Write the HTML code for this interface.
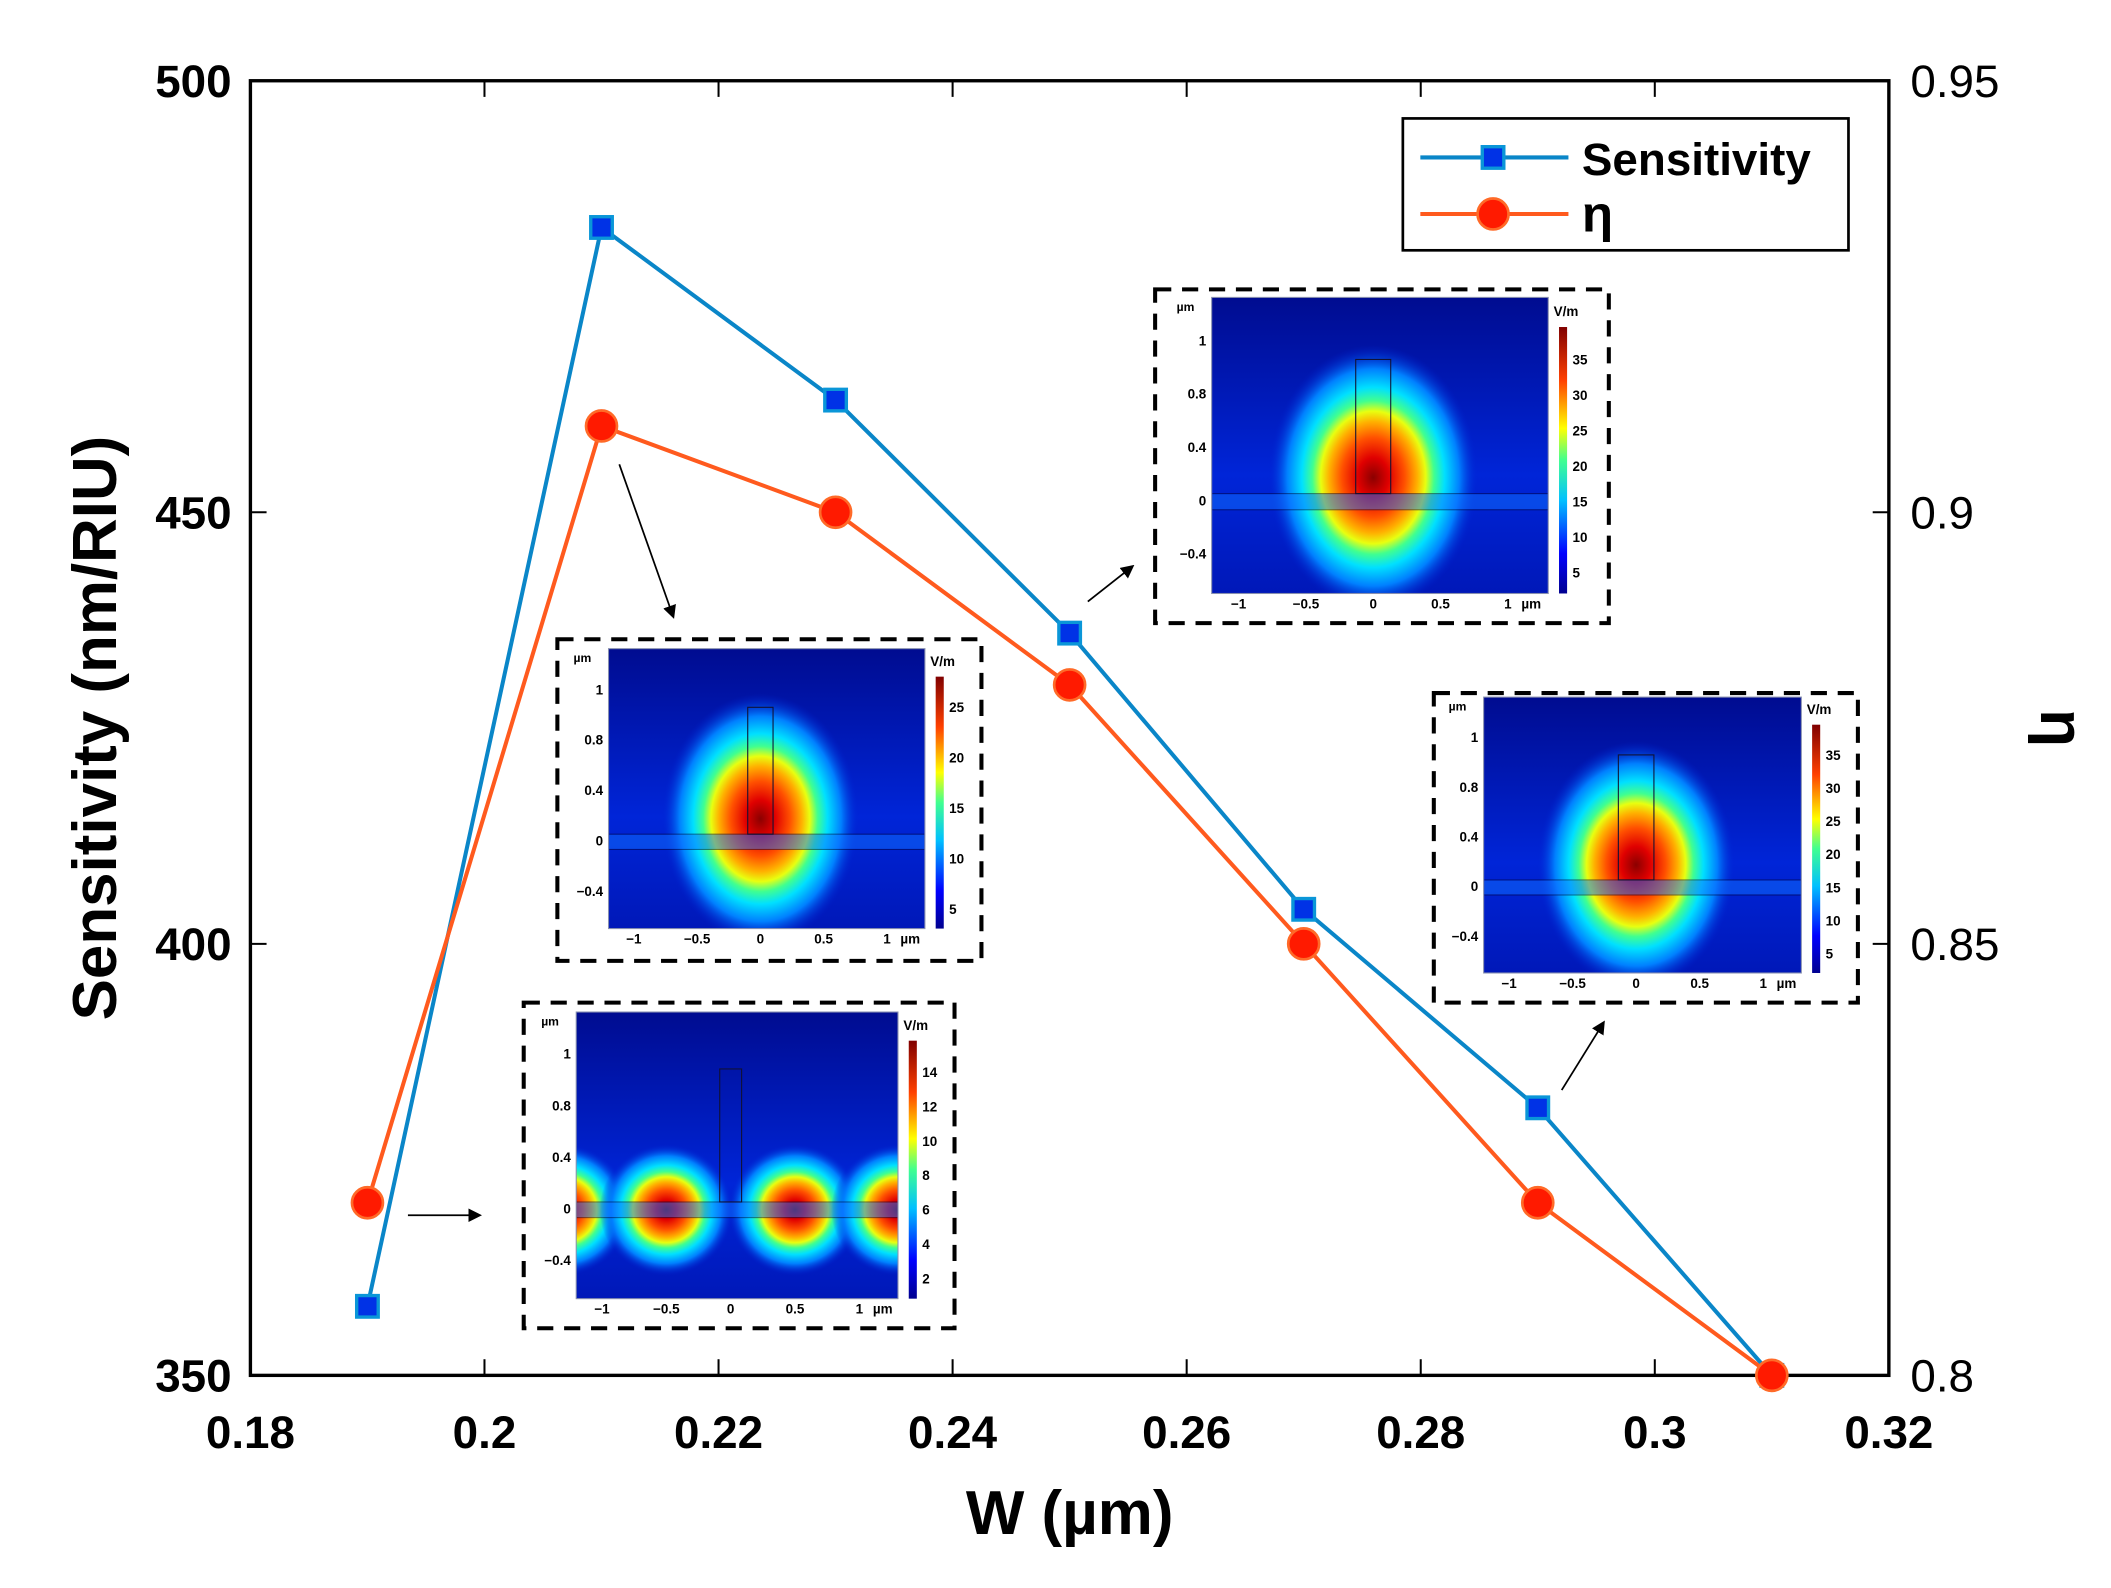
<!DOCTYPE html>
<html><head><meta charset="utf-8"><style>
html,body{margin:0;padding:0;background:#fff;}
svg{display:block;}
text{font-family:"Liberation Sans",sans-serif;}
</style></head><body>
<svg id="chart" width="2111" height="1588" viewBox="0 0 1568 1180" preserveAspectRatio="none" xmlns="http://www.w3.org/2000/svg">
<defs>
<radialGradient id="field" cx="50%" cy="50%" r="50%">
<stop offset="0" stop-color="#8b0000"/>
<stop offset="0.15" stop-color="#e00000"/>
<stop offset="0.3" stop-color="#ff5000"/>
<stop offset="0.42" stop-color="#ffb000"/>
<stop offset="0.5" stop-color="#e8ff10"/>
<stop offset="0.58" stop-color="#40ff90"/>
<stop offset="0.68" stop-color="#00e0ff"/>
<stop offset="0.82" stop-color="#0080ff"/>
<stop offset="1" stop-color="#0020d0" stop-opacity="0"/>
</radialGradient>
<linearGradient id="bg" x1="0" y1="0" x2="0" y2="1">
<stop offset="0" stop-color="#000c90"/><stop offset="0.6" stop-color="#0025d8"/><stop offset="1" stop-color="#0018b8"/>
</linearGradient>
<linearGradient id="cbar" x1="0" y1="1" x2="0" y2="0">
<stop offset="0" stop-color="#00008f"/><stop offset="0.15" stop-color="#0000ff"/><stop offset="0.35" stop-color="#00c0ff"/><stop offset="0.5" stop-color="#40ff90"/><stop offset="0.62" stop-color="#ffff00"/><stop offset="0.8" stop-color="#ff4000"/><stop offset="1" stop-color="#800000"/>
</linearGradient>
<marker id="ah" markerWidth="10" markerHeight="10" refX="8" refY="5" orient="auto" markerUnits="userSpaceOnUse"><path d="M0,0 L10,5 L0,10 z" fill="#000"/></marker>
</defs>
<g id="insets"></g>
<g id="plot"></g>
</svg>
<script>
const categories=[0.19,0.21,0.23,0.25,0.27,0.29,0.31];
const sensitivity=[358,483,463,436,404,381,350];
const eta=[0.82,0.91,0.90,0.88,0.85,0.82,0.80];
const xTicks=[0.18,0.2,0.22,0.24,0.26,0.28,0.3,0.32];
const xTickLabels=["0.18","0.2","0.22","0.24","0.26","0.28","0.3","0.32"];
const yTicks=[350,400,450,500];
const y2Ticks=[0.8,0.85,0.9,0.95];
const y2TickLabels=["0.8","0.85","0.9","0.95"];

const NS="http://www.w3.org/2000/svg";
const L=186,R=1403,T=60,B=1022;
const xs=v=>L+(v-0.18)/(0.32-0.18)*(R-L);
const ys=v=>B-(v-350)/(500-350)*(B-T);
const ys2=v=>B-(v-0.8)/(0.95-0.8)*(B-T);
function mk(tag,attrs,parent,txt){const e=document.createElementNS(NS,tag);for(const k in attrs)e.setAttribute(k,attrs[k]);if(txt!==undefined)e.textContent=txt;parent.appendChild(e);return e;}
const plot=document.getElementById('plot');
const ins=document.getElementById('insets');

function inset(name,box,heat,mode,cbLabels,pillarTop,pillarW){
  const g=mk('g',{},ins);
  
  
  mk('rect',{x:box[0],y:box[1],width:box[2]-box[0],height:box[3]-box[1],fill:'#fff',stroke:'#000','stroke-width':3,'stroke-dasharray':'12,8'},g);
  const [hx0,hy0,hx1,hy1]=heat;const w=hx1-hx0,h=hy1-hy0;
  const cx=hx0+0.48*w,sx=w*0.4,cy=hy0+0.69*h,sy=h*0.546;
  const X=u=>cx+u*sx,Y=u=>cy-u*sy;
  const cp='cp'+name;const c=mk('clipPath',{id:cp},g);mk('rect',{x:hx0,y:hy0,width:w,height:h},c);
  const hg=mk('g',{'clip-path':'url(#'+cp+')'},g);
  mk('rect',{x:hx0,y:hy0,width:w,height:h,fill:'url(#bg)'},hg);
  if(mode==='two'){
    [-1.3,-0.5,0.5,1.3].forEach(u=>mk('ellipse',{cx:X(u),cy:Y(0),rx:sx*0.52,ry:sy*0.42,fill:'url(#field)'},hg));
  }else{
    mk('ellipse',{cx:X(0),cy:Y(0.15),rx:sx*0.78,ry:sy*0.82,fill:'url(#field)'},hg);
  }
  mk('rect',{x:hx0,y:Y(0.05),width:w,height:sy*0.1,fill:'#1070ff',opacity:0.5,stroke:'#003',"stroke-width":0.8},hg);
  mk('rect',{x:X(-pillarW/2),y:Y(pillarTop),width:pillarW*sx,height:Y(0.05)-Y(pillarTop),fill:'none',stroke:'#113','stroke-width':0.8},hg);
  mk('rect',{x:hx0,y:hy0,width:w,height:h,fill:'none',stroke:'#8890b0','stroke-width':0.8},g);
  const cbx=hx1+8,cby0=hy0+0.1*h;
  mk('rect',{x:cbx,y:cby0,width:6,height:hy1-cby0,fill:'url(#cbar)'},g);
  mk('text',{x:cbx-4,y:cby0-8,'font-size':10,'font-weight':'bold'},g,'V/m');
  cbLabels.forEach((t,i)=>mk('text',{x:cbx+10,y:cby0+ (hy1-cby0)*(0.12+i*0.8/(cbLabels.length-1))+4,'font-size':10,'font-weight':'bold'},g,t));
  ['1','0.8','0.4','0','\u22120.4'].forEach((t,i)=>mk('text',{x:hx0-4,y:hy0+h*(0.144+i*0.18)+4,'font-size':10,'font-weight':'bold','text-anchor':'end'},g,t));
  mk('text',{x:hx0-26,y:hy0+10,'font-size':9,'font-weight':'bold'},g,'\u00b5m');
  [[-1,'\u22121'],[-0.5,'\u22120.5'],[0,'0'],[0.5,'0.5'],[1,'1']].forEach(p=>mk('text',{x:X(p[0]),y:hy1+11,'font-size':10,'font-weight':'bold','text-anchor':'middle'},g,p[1]));
  mk('text',{x:X(1)+10,y:hy1+11,'font-size':10,'font-weight':'bold'},g,'\u00b5m');
}
inset('inset-w021',[414,475,729,714],[452,482,687,690],'one',['25','20','15','10','5'],0.88,0.2);
inset('inset-w019',[389,745,709,987],[428,752,667,965],'two',['14','12','10','8','6','4','2'],0.9,0.17);
inset('inset-w025',[858,215,1195,463],[900,221,1150,441],'one',['35','30','25','20','15','10','5'],0.88,0.26);
inset('inset-w029',[1065,515,1380,745],[1102,518,1338,723],'one',['35','30','25','20','15','10','5'],0.88,0.28);

[[460,345,500,458,'arrow-w021'],[303,903,356,903,'arrow-w019'],[808,447,841,421,'arrow-w025'],[1160,810,1191,760,'arrow-w029']].forEach(a=>{
  const e=mk('line',{x1:a[0],y1:a[1],x2:a[2],y2:a[3],stroke:'#000','stroke-width':1.3,'marker-end':'url(#ah)'},plot);
  
  
});

const frame=mk('rect',{x:L,y:T,width:R-L,height:B-T,fill:'none',stroke:'#000','stroke-width':2.5},plot);


xTicks.forEach((v,i)=>{
  mk('line',{x1:xs(v),y1:B,x2:xs(v),y2:B-12,stroke:'#000','stroke-width':1.5},plot);
  mk('line',{x1:xs(v),y1:T,x2:xs(v),y2:T+12,stroke:'#000','stroke-width':1.5},plot);
  const t=mk('text',{x:xs(v),y:B+54,'font-size':34,'font-weight':'bold','text-anchor':'middle'},plot,xTickLabels[i]);
  
  
});
yTicks.forEach(v=>{
  mk('line',{x1:L,y1:ys(v),x2:L+12,y2:ys(v),stroke:'#000','stroke-width':1.5},plot);
  const t=mk('text',{x:L-14,y:ys(v)+12,'font-size':34,'font-weight':'bold','text-anchor':'end'},plot,String(v));
  
  
});
y2Ticks.forEach((v,i)=>{
  mk('line',{x1:R,y1:ys2(v),x2:R-12,y2:ys2(v),stroke:'#000','stroke-width':1.5},plot);
  const t=mk('text',{x:R+16,y:ys2(v)+12,'font-size':34,'text-anchor':'start'},plot,y2TickLabels[i]);
  
  
});
const xt=mk('text',{x:(L+R)/2,y:1140,'font-size':46,'font-weight':'bold','text-anchor':'middle'},plot,'W (\u00b5m)');


const yt=mk('text',{x:0,y:0,'font-size':46,'font-weight':'bold','text-anchor':'middle',transform:'translate(86,541) rotate(-90)'},plot,'Sensitivity (nm/RIU)');


const y2t=mk('text',{x:0,y:0,'font-size':46,'font-weight':'bold','text-anchor':'middle',transform:'translate(1516,541) rotate(90)'},plot,'\u03b7');



const sPts=categories.map((c,i)=>xs(c)+','+ys(sensitivity[i])).join(' ');
const ePts=categories.map((c,i)=>xs(c)+','+ys2(eta[i])).join(' ');
const sl=mk('polyline',{points:sPts,fill:'none',stroke:'#0a86c8','stroke-width':3},plot);


const el=mk('polyline',{points:ePts,fill:'none',stroke:'#ff5a1e','stroke-width':3},plot);


categories.forEach((c,i)=>{
  const m=mk('rect',{x:xs(c)-8,y:ys(sensitivity[i])-8,width:16,height:16,fill:'#0032e6',stroke:'#0a96d8','stroke-width':2.5},plot);
  
  
  const p=mk('circle',{cx:xs(c),cy:ys2(eta[i]),r:11.5,fill:'#ff1a00',stroke:'#ff6a28','stroke-width':2},plot);
  
  
});

const lg=mk('g',{},plot);


mk('rect',{x:1042,y:88,width:331,height:98,fill:'#fff',stroke:'#000','stroke-width':2},lg);
mk('line',{x1:1055,y1:117,x2:1165,y2:117,stroke:'#0a86c8','stroke-width':3},lg);
mk('rect',{x:1101,y:109,width:16,height:16,fill:'#0032e6',stroke:'#0a96d8','stroke-width':2.5},lg);
const l1=mk('text',{x:1175,y:130,'font-size':34,'font-weight':'bold'},lg,'Sensitivity');


mk('line',{x1:1055,y1:159,x2:1165,y2:159,stroke:'#ff5a1e','stroke-width':3},lg);
mk('circle',{cx:1109,cy:159,r:11.5,fill:'#ff1a00',stroke:'#ff6a28','stroke-width':2},lg);
const l2=mk('text',{x:1175,y:172,'font-size':38,'font-weight':'bold'},lg,'\u03b7');


</script>
</body></html>
